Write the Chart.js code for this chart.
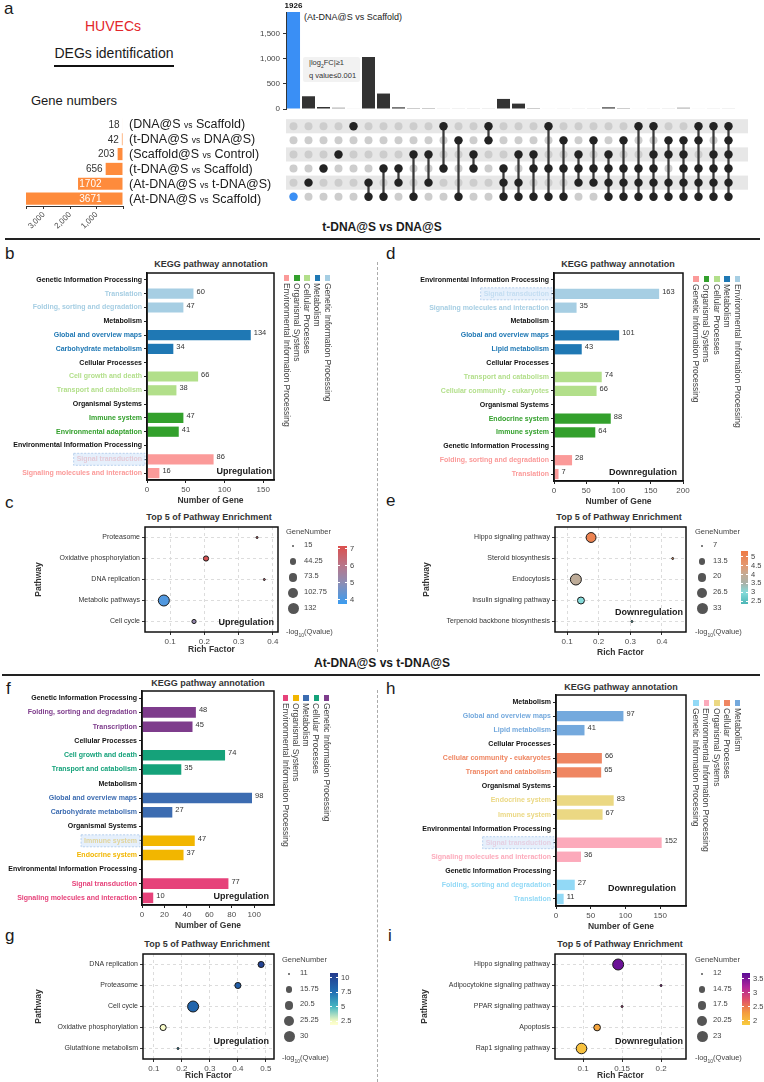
<!DOCTYPE html>
<html><head><meta charset="utf-8">
<script src="https://cdn.jsdelivr.net/npm/chart.js@4.4.1/dist/chart.umd.min.js"></script>
<style>
html,body{margin:0;padding:0;background:#fff;}
body{width:764px;height:1082px;position:relative;overflow:hidden;font-family:"Liberation Sans",Arial,Helvetica,sans-serif;}
.abs{position:absolute;white-space:nowrap;line-height:1;}
canvas{position:absolute;}
.vt{position:absolute;writing-mode:vertical-rl;white-space:nowrap;font-size:8.5px;line-height:10px;color:#444;}
</style></head><body>
<script>
// ---------------- DATA ----------------
const setNames = ['DNA@S vs Scaffold','t-DNA@S vs DNA@S','Scaffold@S vs Control','t-DNA@S vs Scaffold','At-DNA@S vs t-DNA@S','At-DNA@S vs Scaffold'];
const setSizes = [18, 42, 203, 656, 1702, 3671];
const setTicks = [0, 1000, 2000, 3000, 3671];
const interSizes = [1926,253,40,27,7,1033,307,33,20,20,5,4,3,3,200,107,20,8,6,5,4,33,20,8,5,4,27,8,5,4];
const interMembers = [[5],[4],[3],[2],[0],[4,5],[3,5],[3,4],[2,5],[2,4],[0,3],[1,5],[2,3],[0,1],[3,4,5],[2,4,5],[2,3,5],[0,3,5],[1,3,5],[2,3,4],[1,3,4],[2,3,4,5],[1,3,4,5],[0,3,4,5],[0,2,3,4,5],[1,2,4,5],[1,2,3,4,5],[0,1,3,4,5],[0,2,3,4,5],[0,1,2,3,4,5]];
const upsetTicks = [0, 500, 1000, 1500];

const bLabels = ['Genetic Information Processing','Translation','Folding, sorting and degradation','Metabolism','Global and overview maps','Carbohydrate metabolism','Cellular Processes','Cell growth and death','Transport and catabolism','Organismal Systems','Immune system','Environmental adaptation','Environmental Information Processing','Signal transduction','Signaling molecules and interaction'];
const bValues = [null,60,47,null,134,34,null,66,38,null,47,41,null,86,16];
const bTicks = [0, 50, 100, 150];
const bLegend = ['Environmental Information Processing','Organismal Systems','Cellular Processes','Metabolism','Genetic Information Processing'];

const dLabels = ['Environmental Information Processing','Signal transduction','Signaling molecules and interaction','Metabolism','Global and overview maps','Lipid metabolism','Cellular Processes','Transport and catabolism','Cellular community - eukaryotes','Organismal Systems','Endocrine system','Immune system','Genetic Information Processing','Folding, sorting and degradation','Translation'];
const dValues = [null,163,35,null,101,43,null,74,66,null,88,64,null,28,7];
const dTicks = [0, 50, 100, 150, 200];
const dLegend = ['Genetic Information Processing','Organismal Systems','Cellular Processes','Metabolism','Environmental Information Processing'];

const fLabels = ['Genetic Information Processing','Folding, sorting and degradation','Transcription','Cellular Processes','Cell growth and death','Transport and catabolism','Metabolism','Global and overview maps','Carbohydrate metabolism','Organismal Systems','Immune system','Endocrine system','Environmental Information Processing','Signal transduction','Signaling molecules and interaction'];
const fValues = [null,48,45,null,74,35,null,98,27,null,47,37,null,77,10];
const fTicks = [0, 20, 40, 60, 80, 100];
const fLegend = ['Environmental Information Processing','Organismal Systems','Metabolism','Cellular Processes','Genetic Information Processing'];

const hLabels = ['Metabolism','Global and overview maps','Lipid metabolism','Cellular Processes','Cellular community - eukaryotes','Transport and catabolism','Organismal Systems','Endocrine system','Immune system','Environmental Information Processing','Signal transduction','Signaling molecules and interaction','Genetic Information Processing','Folding, sorting and degradation','Translation'];
const hValues = [null,97,41,null,66,65,null,83,67,null,152,36,null,27,11];
const hTicks = [0, 50, 100, 150];
const hLegend = ['Genetic Information Processing','Environmental Information Processing','Organismal Systems','Cellular Processes','Metabolism'];

const cPaths = ['Proteasome','Oxidative phosphorylation','DNA replication','Metabolic pathways','Cell cycle'];
const cRich = [0.354, 0.205, 0.375, 0.082, 0.17];
const cGenes = [15, 30, 15, 132, 22];
const cQ = [6.6, 7.0, 6.4, 4.1, 5.2];
const cXTicks = [0.1, 0.2, 0.3, 0.4];
const cSizeTicks = [15, 44.25, 73.5, 102.75, 132];
const cColorTicks = [7, 6, 5, 4];

const ePaths = ['Hippo signaling pathway','Steroid biosynthesis','Endocytosis','Insulin signaling pathway','Terpenoid backbone biosynthesis'];
const eRich = [0.176, 0.434, 0.128, 0.144, 0.305];
const eGenes = [27, 7, 33, 15, 7];
const eQ = [5.1, 4.6, 3.9, 3.0, 2.6];
const eXTicks = [0.1, 0.2, 0.3, 0.4];
const eSizeTicks = [7, 13.5, 20, 26.5, 33];
const eColorTicks = [5, 4.5, 4, 3.5, 3, 2.5];

const gPaths = ['DNA replication','Proteasome','Cell cycle','Oxidative phosphorylation','Glutathione metabolism'];
const gRich = [0.483, 0.40, 0.24, 0.133, 0.186];
const gGenes = [15, 15, 30, 15, 11];
const gQ = [10.3, 8.7, 8.2, 2.2, 6.0];
const gXTicks = [0.1, 0.2, 0.3, 0.4, 0.5];
const gSizeTicks = [11, 15.75, 20.5, 25.25, 30];
const gColorTicks = [10, 7.5, 5, 2.5];

const iPaths = ['Hippo signaling pathway','Adipocytokine signaling pathway','PPAR signaling pathway','Apoptosis','Rap1 signaling pathway'];
const iRich = [0.145, 0.2, 0.15, 0.118, 0.098];
const iGenes = [23, 12, 12, 15, 22];
const iQ = [3.6, 3.3, 3.0, 2.2, 1.95];
const iXTicks = [0.1, 0.15, 0.2];
const iSizeTicks = [12, 14.75, 17.5, 20.25, 23];
const iColorTicks = [3.5, 3, 2.5, 2];

// ---------------- STYLE / HELPERS ----------------
const FONT = '"Liberation Sans", Arial, Helvetica, sans-serif';
Chart.defaults.font.family = FONT;
Chart.defaults.color = '#333';
Chart.defaults.animation = false;
Chart.defaults.responsive = false;
Chart.defaults.plugins.legend.display = false;
Chart.defaults.plugins.tooltip.enabled = false;

function txt(s, x, y, o = {}) {
  const d = document.createElement('div');
  d.className = 'abs';
  d.innerHTML = s;
  d.style.left = x + 'px'; d.style.top = y + 'px';
  d.style.fontSize = (o.size || 9) + 'px';
  d.style.fontWeight = o.bold ? 'bold' : 'normal';
  d.style.color = o.color || '#1a1a1a';
  const tx = o.align === 'center' ? '-50%' : o.align === 'right' ? '-100%' : '0';
  d.style.transform = `translate(${tx},-50%)`;
  document.body.appendChild(d);
  return d;
}
function rect(x, y, w, h, css) {
  const d = document.createElement('div');
  d.style.cssText = `position:absolute;left:${x}px;top:${y}px;width:${w}px;height:${h}px;` + css;
  document.body.appendChild(d);
  return d;
}
function mkCanvas(area, yw, xh, pad) {
  const L = Math.round(area[0] - yw - pad.l), T = Math.round(area[1] - pad.t);
  const W = Math.round(area[2] + pad.r) - L, H = Math.round(area[3] + xh + pad.b) - T;
  const c = document.createElement('canvas');
  c.width = W; c.height = H;
  c.style.left = L + 'px'; c.style.top = T + 'px'; c.style.width = W + 'px'; c.style.height = H + 'px';
  document.body.appendChild(c);
  return { c, L, T, padding: { left: area[0] - yw - L, top: area[1] - T, right: L + W - area[2], bottom: T + H - area[3] - xh } };
}
const setTicksTo = arr => s => { s.ticks = arr.map(v => ({ value: v })); };
const fmtNum = v => String(+Number(v).toFixed(4));
function hex2rgb(h) { h = h.replace('#', ''); return [0, 2, 4].map(i => parseInt(h.substr(i, 2), 16)); }
function cmapOf(stops) {
  return v => {
    if (v <= stops[0][0]) return stops[0][1];
    if (v >= stops[stops.length - 1][0]) return stops[stops.length - 1][1];
    for (let i = 0; i < stops.length - 1; i++) {
      const [a, ca] = stops[i], [b, cb] = stops[i + 1];
      if (v >= a && v <= b) {
        const t = (v - a) / (b - a), A = hex2rgb(ca), B = hex2rgb(cb);
        return `rgb(${A.map((x, k) => Math.round(x + (B[k] - x) * t)).join(',')})`;
      }
    }
  };
}
const framePlugin = { id: 'frame', afterDraw(ch) {
  const a = ch.chartArea, x = ch.ctx; x.save(); x.lineWidth = 1.5; x.strokeStyle = '#111';
  x.strokeRect(a.left, a.top, a.right - a.left, a.bottom - a.top); x.restore(); } };
const barValuePlugin = { id: 'barvals', afterDatasetsDraw(ch) {
  const x = ch.ctx; x.save(); x.font = '7.5px ' + FONT; x.fillStyle = '#333'; x.textBaseline = 'middle'; x.textAlign = 'left';
  ch.getDatasetMeta(0).data.forEach((b, i) => { const v = ch.data.datasets[0].data[i]; if (v == null) return; x.fillText(String(v), b.x + 3, b.y - 2); });
  x.restore(); } };
const hlPlugin = name => ({ id: 'hl', afterDraw(ch) {
  const i = ch.data.labels.indexOf(name); if (i < 0) return;
  const y = ch.scales.y.getPixelForValue(i), x = ch.ctx;
  x.save(); x.font = 'bold 7px ' + FONT; const w = x.measureText(name).width;
  const r = ch.chartArea.left - 3;
  x.fillStyle = 'rgba(214,231,250,0.62)'; x.fillRect(r - w - 5, y - 6, w + 6, 12);
  x.setLineDash([2, 1.5]); x.strokeStyle = '#a8c6ea'; x.lineWidth = 0.8; x.strokeRect(r - w - 5, y - 6, w + 6, 12);
  x.restore(); } });

// ---------------- STATIC TEXT ----------------
txt('a', 4, 8, { size: 17 });
txt('HUVECs', 113, 26, { size: 14, color: '#e3262b', align: 'center' });
txt('DEGs identification', 114, 53, { size: 14, align: 'center' });
rect(54, 65, 120, 1.5, 'background:#111;');
txt('Gene numbers', 31, 100, { size: 13 });
txt('(At-DNA@S vs Scaffold)', 304, 17, { size: 9 });
rect(303, 57, 57, 25, 'background:#f2f2f2;border-radius:2px;');
txt('|log<sub style="font-size:5px">2</sub>FC|≥1', 309, 64, { size: 7.5, color: '#333' });
txt('q value≤0.001', 309, 76, { size: 7.5, color: '#333' });

txt('t-DNA@S vs DNA@S', 382, 227, { size: 12, bold: true, align: 'center' });
rect(5, 238, 755, 1.5, 'background:#222;');
txt('At-DNA@S vs t-DNA@S', 382, 663, { size: 12, bold: true, align: 'center' });
rect(2, 674, 758, 1.5, 'background:#222;');
rect(377, 262, 0, 390, 'border-left:1px dashed #aaa;');
rect(377, 690, 0, 392, 'border-left:1px dashed #aaa;');

[['b', 5, 253], ['c', 5, 502], ['d', 386, 253], ['e', 386, 500], ['f', 6, 688], ['g', 5, 935], ['h', 386, 688], ['i', 388, 935]]
  .forEach(([s, x, y]) => txt(s, x, y, { size: 17 }));

txt('KEGG pathway annotation', 211, 264, { size: 9, bold: true, align: 'center', color: '#333' });
txt('KEGG pathway annotation', 618, 264, { size: 9, bold: true, align: 'center', color: '#333' });
txt('KEGG pathway annotation', 208, 683, { size: 9, bold: true, align: 'center', color: '#333' });
txt('KEGG pathway annotation', 621, 687, { size: 9, bold: true, align: 'center', color: '#333' });
txt('Top 5 of Pathway Enrichment', 209, 517, { size: 9, bold: true, align: 'center', color: '#333' });
txt('Top 5 of Pathway Enrichment', 619, 517, { size: 9, bold: true, align: 'center', color: '#333' });
txt('Top 5 of Pathway Enrichment', 207, 944, { size: 9, bold: true, align: 'center', color: '#333' });
txt('Top 5 of Pathway Enrichment', 620, 944, { size: 9, bold: true, align: 'center', color: '#333' });

// ---------------- UPSET: intersection bars ----------------
const colLabels = interSizes.map((_, i) => 'I' + (i + 1));
(function () {
  const k = mkCanvas([286, 12, 736, 109], 46, 0, { l: 0, t: 12, r: 10, b: 8 });
  new Chart(k.c, {
    type: 'bar',
    data: { labels: colLabels, datasets: [{ data: interSizes, barPercentage: 0.87, categoryPercentage: 1,
      backgroundColor: c => { const m = interMembers[c.dataIndex], v = interSizes[c.dataIndex];
        if (m.length === 1 && m[0] === 5) return '#3a8ff5'; return v >= 30 ? '#333333' : v >= 15 ? '#9a9a9a' : '#d4d4d4'; } }] },
    options: { devicePixelRatio: 1, layout: { padding: k.padding },
      scales: {
        x: { display: false },
        y: { min: 0, max: Math.max(...interSizes), afterBuildTicks: setTicksTo(upsetTicks),
          ticks: { font: { size: 8 }, color: '#444', padding: 3, autoSkip: false, callback: v => Number(v).toLocaleString('en-US') },
          grid: { drawOnChartArea: false, tickLength: 3, color: '#333' }, border: { color: '#333', width: 1 },
          afterFit: s => { s.width = 46; } } } },
    plugins: [{ id: 'top', afterDatasetsDraw(ch) {
      const x = ch.ctx, mx = Math.max(...interSizes);
      x.save(); x.font = 'bold 8px ' + FONT; x.fillStyle = '#111'; x.textAlign = 'center'; x.textBaseline = 'bottom';
      ch.getDatasetMeta(0).data.forEach((b, i) => { if (interSizes[i] === mx) x.fillText(String(mx), b.x, b.y - 2); });
      x.restore(); } }]
  });
})();

// ---------------- UPSET: matrix ----------------
(function () {
  const k = mkCanvas([286, 117, 736, 206], 0, 0, { l: 6, t: 2, r: 14, b: 2 });
  const grayPts = [], darkPts = [], bluePts = [], segs = [];
  interMembers.forEach((m, j) => {
    const lab = colLabels[j];
    for (let r = 0; r < setNames.length; r++) grayPts.push({ x: lab, y: r });
    m.forEach(r => (m.length === 1 && r === 5 ? bluePts : darkPts).push({ x: lab, y: r }));
    segs.push(m.length > 1 ? [Math.min(...m), Math.max(...m)] : null);
  });
  new Chart(k.c, {
    type: 'bar',
    data: { labels: colLabels, datasets: [
      { type: 'line', data: grayPts, showLine: false, pointRadius: 4, pointBackgroundColor: '#cdcdcd', pointBorderWidth: 0, order: 3 },
      { type: 'bar', data: segs, backgroundColor: '#3a3a3a', barThickness: 1.6, order: 2 },
      { type: 'line', data: darkPts, showLine: false, pointRadius: 4.2, pointBackgroundColor: '#232323', pointBorderWidth: 0, order: 1 },
      { type: 'line', data: bluePts, showLine: false, pointRadius: 4.2, pointBackgroundColor: '#3a8ff5', pointBorderWidth: 0, order: 0 } ] },
    options: { devicePixelRatio: 1, layout: { padding: k.padding },
      scales: { x: { display: false }, y: { display: false, min: -0.5, max: setNames.length - 0.5, reverse: true } } },
    plugins: [{ id: 'stripes', beforeDatasetsDraw(ch) {
      const x = ch.ctx, ys = ch.scales.y, a = ch.chartArea; x.save(); x.fillStyle = '#e7e7e7';
      for (let r = 0; r < setNames.length; r += 2) { const y0 = ys.getPixelForValue(r - 0.5), y1 = ys.getPixelForValue(r + 0.5); x.fillRect(a.left, y0, a.right + 12 - a.left, y1 - y0); }
      x.restore(); } }]
  });
})();

// ---------------- UPSET: set sizes ----------------
(function () {
  const k = mkCanvas([26, 117, 123, 206], 0, 40, { l: 26, t: 8, r: 4, b: 2 });
  const ch = new Chart(k.c, {
    type: 'bar',
    data: { labels: setNames, datasets: [{ data: setSizes, backgroundColor: '#fe8b3c', barPercentage: 0.82, categoryPercentage: 1 }] },
    options: { indexAxis: 'y', devicePixelRatio: 1, layout: { padding: k.padding },
      scales: {
        y: { display: false },
        x: { display: true, position: 'bottom', reverse: true, min: 0, max: Math.max(...setSizes), afterBuildTicks: setTicksTo(setTicks),
          ticks: { font: { size: 8 }, color: '#444', minRotation: 45, maxRotation: 45, padding: 1, autoSkip: false,
            callback: v => (v > 0 && v % 1000 === 0) ? Number(v).toLocaleString('en-US') : '' },
          grid: { drawOnChartArea: false, tickLength: 3, color: '#333' }, border: { display: true, color: '#333', width: 1 },
          afterFit: s => { s.height = 40; } } } },
    plugins: [{ id: 'vals', afterDatasetsDraw(ch) {
      const x = ch.ctx; x.save(); x.font = '10px ' + FONT; x.textAlign = 'right'; x.textBaseline = 'middle';
      ch.getDatasetMeta(0).data.forEach((b, i) => {
        const len = b.base - b.x, inside = len > 30;
        x.fillStyle = inside ? '#fff' : '#333';
        x.fillText(String(setSizes[i]), inside ? b.base - 21 : b.x - 3, b.y + 0.5);
      });
      x.restore(); } }]
  });
  const ys = ch.scales.y;
  setNames.forEach((n, i) => {
    const [a, b] = n.split(' vs ');
    txt('(' + a + ' <span style="font-size:8.5px">vs</span> ' + b + ')', 129, k.T + ys.getPixelForValue(i), { size: 12.5 });
  });
})();

// ---------------- KEGG bar charts ----------------
function kegg(area, yw, labels, values, colors, xmax, ticksArr, highlight) {
  const groupNames = Object.keys(colors);
  let g = null;
  const grp = labels.map(l => { if (groupNames.includes(l)) g = l; return g; });
  const isHead = labels.map(l => groupNames.includes(l));
  const xh = 28;
  const k = mkCanvas(area, yw, xh, { l: 0, t: 10, r: 12, b: 2 });
  new Chart(k.c, {
    type: 'bar',
    data: { labels, datasets: [{ data: values, backgroundColor: c => colors[grp[c.dataIndex]], barPercentage: 0.74, categoryPercentage: 1 }] },
    options: { indexAxis: 'y', devicePixelRatio: 1, layout: { padding: k.padding },
      scales: {
        x: { min: 0, max: xmax, afterBuildTicks: setTicksTo(ticksArr),
          ticks: { font: { size: 8 }, color: '#4d4d4d', padding: 2, autoSkip: false, callback: fmtNum },
          grid: { drawOnChartArea: false, tickLength: 3, color: '#222' }, border: { color: '#111', width: 1.5 },
          title: { display: true, text: 'Number of Gene', font: { size: 8.5, weight: 'bold' }, color: '#333', padding: { top: 0, bottom: 2 } },
          afterFit: s => { s.height = xh; } },
        y: { ticks: { font: { size: 7, weight: 'bold' }, color: c => isHead[c.index] ? '#111' : colors[grp[c.index]], padding: 2, autoSkip: false },
          grid: { drawOnChartArea: false, tickLength: 3, color: '#222', offset: false }, border: { color: '#111', width: 1.5 },
          afterFit: s => { s.width = yw; } } } },
    plugins: [framePlugin, barValuePlugin, hlPlugin(highlight)]
  });
}
function vLegend(cx0, step, ySq, yText, names, colors) {
  names.forEach((n, i) => {
    const cx = cx0 + i * step;
    rect(cx - 2.75, ySq, 5.5, 5.5, 'background:' + colors[n] + ';');
    const d = document.createElement('div'); d.className = 'vt'; d.textContent = n;
    d.style.left = (cx - 5) + 'px'; d.style.top = yText + 'px'; document.body.appendChild(d);
  });
}
const bColors = { 'Genetic Information Processing': '#a6cee3', 'Metabolism': '#1f78b4', 'Cellular Processes': '#b2df8a', 'Organismal Systems': '#33a02c', 'Environmental Information Processing': '#fb9a99' };
const dColors = { 'Environmental Information Processing': '#a6cee3', 'Metabolism': '#1f78b4', 'Cellular Processes': '#b2df8a', 'Organismal Systems': '#33a02c', 'Genetic Information Processing': '#fb9a99' };
const fColors = { 'Genetic Information Processing': '#7e3c8c', 'Cellular Processes': '#15a27a', 'Metabolism': '#3c6cb1', 'Organismal Systems': '#f2b600', 'Environmental Information Processing': '#e6427a' };
const hColors = { 'Metabolism': '#74a9dd', 'Cellular Processes': '#ef8662', 'Organismal Systems': '#ebd883', 'Environmental Information Processing': '#fcaabb', 'Genetic Information Processing': '#92d9f6' };

kegg([147, 273, 274, 480], 147, bLabels, bValues, bColors, 164, bTicks, 'Signal transduction');
kegg([554, 273, 683, 481], 159, dLabels, dValues, dColors, 200, dTicks, 'Signal transduction');
kegg([142, 691, 274, 905], 142, fLabels, fValues, fColors, 117.6, fTicks, 'Immune system');
kegg([556, 695, 686, 906], 156, hLabels, hValues, hColors, 187, hTicks, 'Signal transduction');
vLegend(286.5, 10.3, 275, 283, bLegend, bColors);
vLegend(696, 10.4, 276, 284, dLegend, dColors);
vLegend(285.5, 10.3, 695, 703, fLegend, fColors);
vLegend(696, 10.4, 700, 708, hLegend, hColors);

txt('Upregulation', 272, 471, { size: 9, bold: true, align: 'right' });
txt('Downregulation', 677, 472, { size: 9, bold: true, align: 'right' });
txt('Upregulation', 269, 896, { size: 9, bold: true, align: 'right' });
txt('Downregulation', 676, 888, { size: 9, bold: true, align: 'right' });

// ---------------- Bubble charts ----------------
function bubble(area, yw, xh, xmin, xmax, ticksArr, paths, rich, genes, q, sizeTicks, stops) {
  const k = mkCanvas(area, yw, xh, { l: 0, t: 10, r: 12, b: 2 });
  const gmin = Math.min(...sizeTicks), gmax = Math.max(...sizeTicks);
  const rad = g => 1 + 4.5 * Math.sqrt(Math.max(0, (g - gmin) / (gmax - gmin)));
  const cmap = cmapOf(stops);
  new Chart(k.c, {
    type: 'bubble',
    data: { datasets: [{ data: paths.map((p, i) => ({ x: rich[i], y: p, r: rad(genes[i]) })),
      backgroundColor: c => cmap(q[c.dataIndex]), borderColor: '#1a1a1a', borderWidth: 1 }] },
    options: { devicePixelRatio: 1, layout: { padding: k.padding },
      scales: {
        x: { type: 'linear', min: xmin, max: xmax, afterBuildTicks: setTicksTo(ticksArr),
          ticks: { font: { size: 8 }, color: '#4d4d4d', padding: 2, autoSkip: false, callback: fmtNum },
          grid: { color: '#dcdcdc', tickLength: 3, tickColor: '#333' }, border: { display: false, dash: [3, 3] },
          title: { display: true, text: 'Rich Factor', font: { size: 8.5, weight: 'bold' }, color: '#333', padding: { top: 0, bottom: 1 } },
          afterFit: s => { s.height = xh; } },
        y: { type: 'category', labels: paths, offset: true,
          ticks: { font: { size: 7 }, color: '#333', padding: 2, autoSkip: false },
          grid: { color: '#dcdcdc', tickLength: 3, tickColor: '#333' }, border: { display: false, dash: [3, 3] },
          title: { display: true, text: 'Pathway', font: { size: 8.5, weight: 'bold' }, color: '#333', padding: { top: 1, bottom: 0 } },
          afterFit: s => { s.width = yw; } } } },
    plugins: [framePlugin]
  });
  return { rad, cmap };
}
function bubbleLegend(x, y0, sizeTicks, rad, cb, colorTicks, stops, yq) {
  txt('GeneNumber', x, y0, { size: 7.5, color: '#444' });
  sizeTicks.forEach((v, i) => {
    const y = y0 + 14 + i * 15.7, r = rad(v);
    rect(x + 7 - r, y - r, 2 * r, 2 * r, 'background:#555;border-radius:50%;');
    txt(String(v), x + 18, y - 1, { size: 7.5, color: '#444' });
  });
  const [cx, top, w, h, vmin, vmax] = cb;
  const grad = stops.map(([v, c]) => `${c} ${((v - vmin) / (vmax - vmin) * 100).toFixed(1)}%`).join(',');
  rect(cx, top, w, h, `background:linear-gradient(to top, ${grad});`);
  colorTicks.forEach(v => {
    const y = top + (vmax - v) / (vmax - vmin) * h;
    rect(cx, y - 0.5, 2, 1, 'background:#fff;'); rect(cx + w - 2, y - 0.5, 2, 1, 'background:#fff;');
    txt(String(v), cx + w + 3, y, { size: 7.5, color: '#444' });
  });
  txt('-log<sub style="font-size:5px">10</sub>(Qvalue)', x, yq, { size: 7.5, color: '#444' });
}
const cStops = [[3.75, '#3a9cf0'], [5, '#8c8db4'], [6, '#b7768a'], [7.15, '#dc4f4d']];
const eStops = [[2.33, '#4db6b6'], [3, '#86dcdb'], [3.5, '#a9b2a9'], [4, '#c3ab94'], [4.5, '#e39a72'], [5.34, '#ef7a44']];
const gStops = [[1.81, '#ffffd2'], [2.5, '#f4fac2'], [5, '#45b6c2'], [7.5, '#2270b4'], [10.86, '#243a8c']];
const iStops = [[1.85, '#f8cc3e'], [2.3, '#f49a3d'], [2.75, '#e0506a'], [3.2, '#b0259b'], [3.7, '#5a0c96']];

const cB = bubble([145, 527, 278, 632], 112, 24, 0.027, 0.415, cXTicks, cPaths, cRich, cGenes, cQ, cSizeTicks, cStops);
bubbleLegend(286, 532, cSizeTicks, cB.rad, [338, 546, 9, 58, 3.75, 7.15], cColorTicks, cStops, 633);
const eB = bubble([555, 527, 686, 632], 134, 27, 0.062, 0.476, eXTicks, ePaths, eRich, eGenes, eQ, eSizeTicks, eStops);
bubbleLegend(695, 532, eSizeTicks, eB.rad, [741, 551, 7, 53, 2.33, 5.34], eColorTicks, eStops, 633);
const gB = bubble([143, 954, 274, 1059], 110, 23, 0.061, 0.529, gXTicks, gPaths, gRich, gGenes, gQ, gSizeTicks, gStops);
bubbleLegend(282, 960, gSizeTicks, gB.rad, [330, 973, 8, 52, 1.81, 10.86], gColorTicks, gStops, 1059);
const iB = bubble([555, 954, 686, 1059], 136, 23, 0.064, 0.232, iXTicks, iPaths, iRich, iGenes, iQ, iSizeTicks, iStops);
bubbleLegend(695, 960, iSizeTicks, iB.rad, [742, 973, 8, 52, 1.85, 3.7], iColorTicks, iStops, 1059);

txt('Upregulation', 274, 622, { size: 9, bold: true, align: 'right' });
txt('Downregulation', 683, 612, { size: 9, bold: true, align: 'right' });
txt('Upregulation', 269, 1041, { size: 9, bold: true, align: 'right' });
txt('Downregulation', 683, 1041, { size: 9, bold: true, align: 'right' });
</script>
</body></html>
